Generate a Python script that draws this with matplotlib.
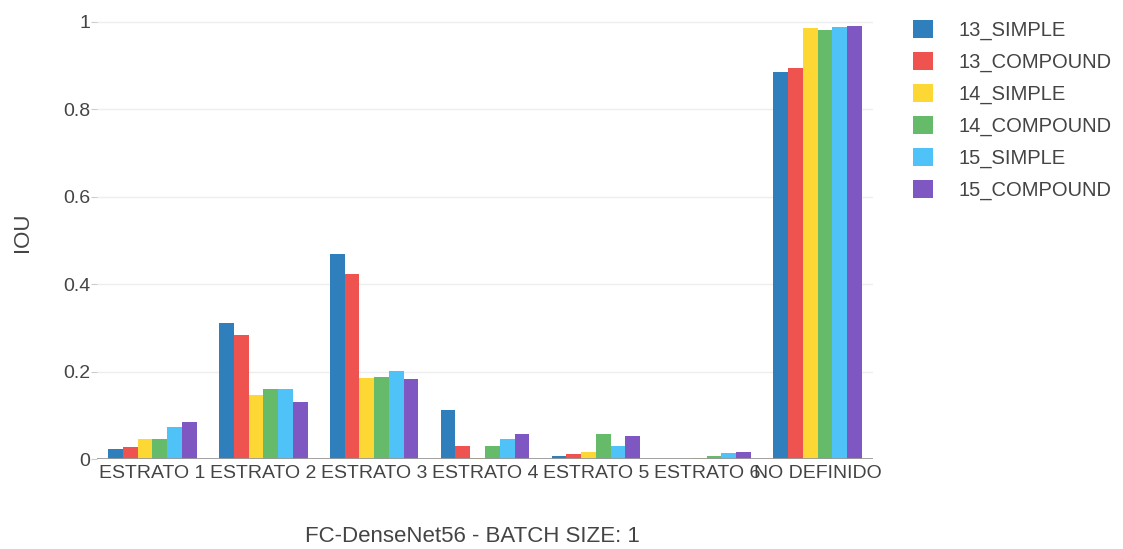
import numpy as np
import matplotlib.pyplot as plt
from matplotlib.patches import Patch

categories = ['ESTRATO 1', 'ESTRATO 2', 'ESTRATO 3', 'ESTRATO 4', 'ESTRATO 5', 'ESTRATO 6', 'NO DEFINIDO']
series_names = ['13_SIMPLE', '13_COMPOUND', '14_SIMPLE', '14_COMPOUND', '15_SIMPLE', '15_COMPOUND']

s13_simple = [0.022, 0.310, 0.469, 0.112, 0.008, 0.000, 0.885]
s13_compound = [0.027, 0.284, 0.423, 0.030, 0.011, 0.000, 0.895]
s14_simple = [0.046, 0.146, 0.185, 0.003, 0.015, 0.003, 0.986]
s14_compound = [0.045, 0.161, 0.187, 0.030, 0.058, 0.007, 0.982]
s15_simple = [0.073, 0.160, 0.201, 0.045, 0.029, 0.014, 0.988]
s15_compound = [0.085, 0.130, 0.184, 0.057, 0.053, 0.015, 0.991]

series = [s13_simple, s13_compound, s14_simple, s14_compound, s15_simple, s15_compound]
colors = ['#2F7FBC', '#EF5350', '#FDD835', '#66BB6A', '#4FC3F7', '#7E57C2']

plt.rcParams['font.family'] = ['Liberation Sans', 'DejaVu Sans']
text_col = '#444444'

fig = plt.figure(figsize=(11.23, 5.49), dpi=100)
ax = fig.add_axes([97 / 1123, 1 - 459 / 549, 776 / 1123, 456 / 549])

x = np.arange(len(categories))
n = len(series)
group = 0.8
w = group / n
for i, (vals, c) in enumerate(zip(series, colors)):
    ax.bar(x - group / 2 + w * (i + 0.5), vals, width=w, color=c, label=series_names[i], zorder=3)

ax.set_xlim(-0.5, len(categories) - 0.5)
ax.set_ylim(0, 1.043)
ax.set_yticks([0, 0.2, 0.4, 0.6, 0.8, 1])
ax.set_yticklabels(['0', '0.2', '0.4', '0.6', '0.8', '1'])
ax.set_xticks(x)
ax.set_xticklabels(categories)
ax.grid(axis='y', color='#eeeeee', linewidth=1, zorder=0)
ax.axhline(0, color='#999999', linewidth=2, zorder=4)
for s in ax.spines.values():
    s.set_visible(False)
ax.tick_params(axis='y', length=4, color='#cccccc', labelsize=14, labelcolor=text_col, pad=1)
ax.tick_params(axis='x', length=0, labelsize=14, labelcolor=text_col, pad=4)

fig.text(23 / 1123, 1 - 232 / 549, 'IOU', rotation=90, fontsize=16, color=text_col,
         ha='center', va='center')
fig.text(472 / 1123, 1 - 537 / 549, 'FC-DenseNet56 - BATCH SIZE: 1', fontsize=16,
         color=text_col, ha='center', va='center')

handles = [Patch(facecolor=c, label=nm) for c, nm in zip(colors, series_names)]
fig.legend(handles=handles, loc='upper left', bbox_to_anchor=(895 / 1123, 1 - 2 / 549),
           frameon=False, fontsize=14.5, labelcolor=text_col, handlelength=1.0, handleheight=1.0,
           handletextpad=1.25, labelspacing=0.59)

fig.savefig('out.png', dpi=100)
